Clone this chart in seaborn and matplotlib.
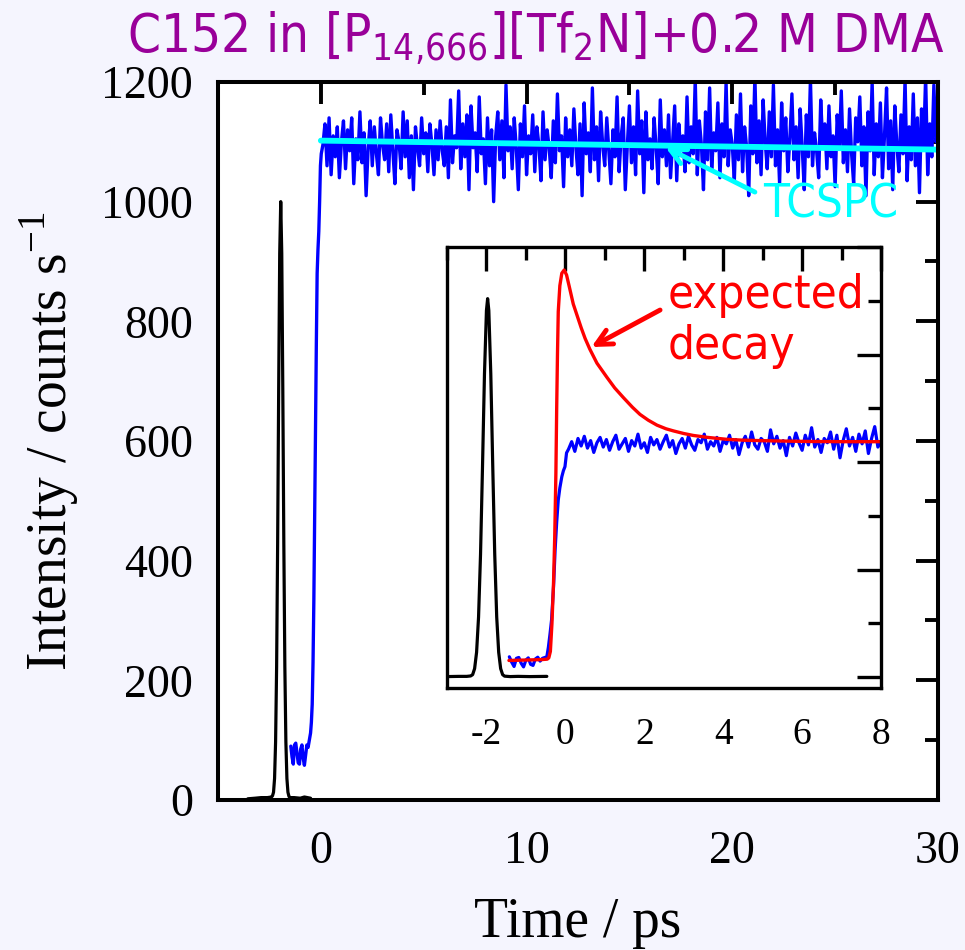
import numpy as np
import pandas as pd
import matplotlib
matplotlib.use("Agg")
import matplotlib.pyplot as plt
from matplotlib import font_manager as fm
from matplotlib.ticker import MultipleLocator, NullFormatter
import seaborn as sns

# ---------------- data ----------------
# instrument response (main panel), counts s^-1
irf_t = [-3.55, -3.2, -2.9, -2.6, -2.4, -2.35, -2.3, -2.25, -2.2, -2.15, -2.1,
         -2.05, -2.0, -1.95, -1.9, -1.85, -1.8, -1.75, -1.7, -1.65, -1.6,
         -1.55, -1.5, -1.3, -1.0, -0.8, -0.5]
irf_i = [2, 3, 4, 4, 5, 7, 13, 36, 97, 223, 430, 688, 913, 1000, 913, 688,
         430, 223, 97, 36, 13, 6, 4, 4, 3, 5, 3]

# fluorescence before / during the rise (main panel)
rise_t = [-1.46, -1.40, -1.34, -1.28, -1.22, -1.16, -1.10, -1.04, -0.98, -0.92,
          -0.86, -0.80, -0.74, -0.68, -0.62, -0.56, -0.50, -0.46, -0.42, -0.38,
          -0.34, -0.30, -0.26, -0.22, -0.18, -0.14, -0.10, -0.06, -0.02, 0.02]
rise_i = [90, 72, 60, 92, 95, 78, 62, 60, 85, 92, 70, 58, 75, 92, 88, 100, 112,
          130, 160, 230, 334, 480, 620, 760, 880, 920, 950, 1000, 1060, 1080]

# fluorescence plateau, 0.1 ps bins from 0.1 to 30.0 ps
plateau_t0, plateau_dt = 0.1, 0.1
plateau_i = [
    1095, 1130, 1060, 1140, 1045, 1110, 1075, 1125, 1040, 1100, 1135, 1055, 1120, 1085, 1140, 1030, 1105, 1070, 1150, 1065,
    1115, 1010, 1090, 1135, 1060, 1125, 1080, 1045, 1140, 1095, 1070, 1130, 1050, 1145, 1085, 1030, 1120, 1100, 1055, 1150,
    1075, 1135, 1040, 1110, 1020, 1125, 1090, 1060, 1140, 1080, 1115, 1050, 1130, 1095, 1045, 1120, 1070, 1135, 1085, 1060,
    1125, 1040, 1170, 1065, 1110, 1090, 1185, 1055, 1130, 1075, 1145, 1020, 1160, 1090, 1115, 1050, 1175, 1080, 1105, 1030,
    1140, 1060, 1120, 1000, 1110, 1150, 1070, 1135, 1040, 1195, 1085, 1125, 1055, 1140, 1090, 1020, 1130, 1075, 1160, 1045,
    1110, 1080, 1145, 1050, 1125, 1095, 1035, 1150, 1070, 1120, 1090, 1040, 1135, 1065, 1180, 1085, 1110, 1025, 1140, 1075,
    1120, 1060, 1155, 1090, 1045, 1130, 1010, 1165, 1080, 1115, 1050, 1190, 1070, 1125, 1035, 1150, 1095, 1060, 1140, 1085,
    1030, 1120, 1075, 1175, 1050, 1110, 1140, 1020, 1095, 1160, 1065, 1125, 1045, 1185, 1080, 1135, 1015, 1150, 1070, 1105,
    1055, 1140, 1090, 1030, 1170, 1075, 1120, 1060, 1145, 1040, 1100, 1160, 1035, 1130, 1085, 1110, 1050, 1175, 1065, 1125,
    1080, 1205, 1045, 1135, 1095, 1020, 1150, 1070, 1190, 1055, 1115, 1085, 1165, 1040, 1130, 1075, 1200, 1060, 1120, 1095,
    1035, 1145, 1070, 1180, 1050, 1125, 1090, 1010, 1160, 1080, 1210, 1065, 1135, 1045, 1170, 1100, 1055, 1150, 1075, 1195,
    1060, 1120, 1030, 1165, 1085, 1140, 1050, 1105, 1180, 1070, 1125, 1040, 1155, 1090, 1020, 1145, 1075, 1205, 1060, 1115,
    1085, 1040, 1170, 1095, 1130, 1055, 1160, 1075, 1110, 1025, 1145, 1090, 1185, 1065, 1120, 1050, 1155, 1080, 1030, 1140,
    1100, 1175, 1060, 1125, 1010, 1150, 1085, 1200, 1045, 1130, 1075, 1165, 1040, 1110, 1190, 1055, 1135, 1020, 1160, 1095,
    1050, 1145, 1080, 1205, 1035, 1125, 1070, 1180, 1060, 1140, 1015, 1155, 1090, 1210, 1045, 1130, 1075, 1195, 1100, 1120,
]

# TCSPC level
tcspc_t = [0.0, 30.0]
tcspc_i = [1102, 1087]

# inset: instrument response
in_irf_t = [-3.0, -2.7, -2.5, -2.4, -2.35, -2.3, -2.25, -2.2, -2.15, -2.1, -2.05,
            -2.0, -1.97, -1.94, -1.89, -1.84, -1.79, -1.74, -1.69, -1.64, -1.59,
            -1.54, -1.4, -1.2, -0.9, -0.47]
in_irf_i = [3, 4, 4, 6, 12, 40, 116, 280, 571, 978, 1410, 1705, 1760, 1705,
            1410, 978, 571, 280, 116, 40, 12, 5, 3, 4, 3, 4]

# inset: measured rise
in_rise_t = [-1.42, -1.36, -1.30, -1.24, -1.18, -1.12, -1.06, -1.00, -0.94, -0.88,
             -0.82, -0.76, -0.70, -0.64, -0.58, -0.52, -0.47, -0.43, -0.39, -0.35,
             -0.30, -0.26, -0.22, -0.18, -0.14, -0.09, -0.05, -0.01, 0.03]
in_rise_i = [95, 70, 50, 88, 92, 65, 48, 80, 90, 60, 55, 85, 93, 75, 88, 92, 95,
             140, 200, 266, 420, 591, 720, 824, 880, 932, 960, 979, 1043]

# inset: measured plateau, 0.08 ps bins from 0.08 to 8.0 ps
in_plat_t0, in_plat_dt = 0.08, 0.08
in_plat_i = [
    1060, 1095, 1050, 1110, 1075, 1120, 1065, 1100, 1045, 1090,
    1115, 1070, 1105, 1055, 1095, 1125, 1060, 1085, 1110, 1050,
    1100, 1075, 1130, 1065, 1090, 1045, 1115, 1080, 1105, 1060,
    1095, 1125, 1070, 1100, 1040, 1085, 1110, 1065, 1120, 1080,
    1055, 1105, 1090, 1130, 1060, 1095, 1075, 1115, 1050, 1100,
    1085, 1125, 1065, 1105, 1035, 1090, 1120, 1070, 1140, 1080,
    1060, 1110, 1095, 1050, 1150, 1085, 1120, 1065, 1100, 1030,
    1115, 1075, 1135, 1090, 1055, 1125, 1080, 1160, 1070, 1105,
    1045, 1110, 1090, 1140, 1060, 1125, 1020, 1100, 1155, 1075,
    1115, 1050, 1130, 1085, 1145, 1040, 1110, 1165, 1070, 1095,
]

# inset: expected decay
exp_t = [-1.43, -1.0, -0.6, -0.46, -0.42, -0.38, -0.34, -0.30, -0.27, -0.24,
         -0.22, -0.20, -0.18, -0.14, -0.09, -0.03, 0.03, 0.1, 0.2, 0.3, 0.4, 0.5,
         0.62, 0.8, 1.05, 1.25, 1.47, 1.7, 1.89, 2.1, 2.32, 2.55, 2.74, 3.0,
         3.24, 3.6, 4.09, 4.5, 4.93, 5.5, 6.2, 7.0, 8.0]
exp_i = [78, 80, 82, 84, 90, 120, 250, 440, 650, 950, 1250, 1500, 1700, 1820,
         1878, 1893, 1870, 1815, 1735, 1680, 1625, 1575, 1525, 1460, 1395, 1345,
         1300, 1255, 1222, 1195, 1172, 1155, 1145, 1133, 1124, 1115, 1106, 1102,
         1100, 1098, 1096, 1095, 1095]


# ---------------- fonts ----------------
def find_narrow_sans():
    """Return the file of an installed narrow / condensed sans face, if any."""
    best = None
    for f in fm.fontManager.ttflist:
        name = f.name.lower()
        fname = f.fname.lower()
        if "mono" in name or "serif" in name or "cjk" in name:
            continue
        stretch = f.stretch
        is_narrow = ("narrow" in name or "condensed" in name
                     or "narrow" in fname or "condensed" in fname
                     or stretch in ("condensed", "semi-condensed"))
        if not is_narrow or "extra" in fname or "ultra" in fname:
            continue
        if f.style != "normal":
            continue
        w = f.weight if isinstance(f.weight, int) else (700 if "bold" in str(f.weight) else 400)
        if w != 400:
            continue
        rank = 1 if ("semi" in fname or "semi" in str(stretch)) else 0
        if best is None or rank < best[0]:
            best = (rank, f.fname)
    return None if best is None else best[1]


narrow_file = find_narrow_sans()

sns.set_theme(style="white")
plt.rcParams["font.family"] = ["Liberation Serif", "DejaVu Serif"]
plt.rcParams["axes.unicode_minus"] = False
plt.rcParams["axes.edgecolor"] = "black"


def sans(size):
    if narrow_file:
        return fm.FontProperties(fname=narrow_file, size=size)
    return fm.FontProperties(family="Roboto", size=size * 0.93)


bg = "#F5F5FE"

fig = plt.figure(figsize=(9.65, 9.5), dpi=100, facecolor=bg)
ax = fig.add_axes([0.2259, 0.1579, 0.7461, 0.7558])
ax.set_facecolor("white")

plateau_t = plateau_t0 + plateau_dt * np.arange(len(plateau_i))
blue_main = pd.DataFrame({"t": list(rise_t) + list(plateau_t),
                          "i": list(rise_i) + list(plateau_i)})
irf_main = pd.DataFrame({"t": irf_t, "i": irf_i})
tcspc = pd.DataFrame({"t": tcspc_t, "i": tcspc_i})

sns.lineplot(data=irf_main, x="t", y="i", ax=ax, color="black", lw=2.3,
             sort=False, estimator=None)
sns.lineplot(data=blue_main, x="t", y="i", ax=ax, color="#0000FF", lw=2.4,
             sort=False, estimator=None)
sns.lineplot(data=tcspc, x="t", y="i", ax=ax, color="#00FFFF", lw=4.2,
             sort=False, estimator=None)

ax.set_xlim(-5, 30)
ax.set_ylim(0, 1200)
ax.xaxis.set_major_locator(MultipleLocator(10))
ax.xaxis.set_minor_locator(MultipleLocator(5))
ax.yaxis.set_major_locator(MultipleLocator(200))
ax.yaxis.set_minor_locator(MultipleLocator(100))
ax.tick_params(which="both", direction="in", top=True, right=True,
               width=2.8, color="black")
ax.tick_params(which="major", length=15.5, labelsize=33, labelcolor="black")
ax.tick_params(which="minor", length=9.5)
ax.tick_params(axis="x", which="major", pad=22)
ax.tick_params(axis="y", which="major", pad=18)
for s in ax.spines.values():
    s.set_linewidth(2.9)
    s.set_color("black")

ax.set_xlabel("Time / ps", fontsize=40, color="black")
ax.set_ylabel(r"Intensity / counts s$^{\mathregular{-1}}$", fontsize=40, color="black")
ax.xaxis.set_label_coords(0.5, -0.135)
ax.yaxis.set_label_coords(-0.19, 0.5)

# TCSPC label and arrow
ax.annotate("", xy=(16.75, 1091), xytext=(21.1, 1016),
            arrowprops=dict(arrowstyle="->", color="#00FFFF", lw=3.5,
                            mutation_scale=28, shrinkA=0, shrinkB=0))
ax.text(21.5, 974, "TCSPC", color="#00FFFF", fontproperties=sans(34),
        ha="left", va="baseline")

# title
fig.text(0.979, 0.945,
         r"C152 in [P$_{\mathregular{14{,}666}}$][Tf$_{\mathregular{2}}$N]+0.2 M DMA",
         color="#990099", fontproperties=sans(38), ha="right", va="baseline")

# ---------------- inset ----------------
ins = fig.add_axes([0.4632, 0.2758, 0.4498, 0.4642])
ins.set_facecolor("white")

in_plat_t = in_plat_t0 + in_plat_dt * np.arange(len(in_plat_i))
blue_in = pd.DataFrame({"t": list(in_rise_t) + list(in_plat_t),
                        "i": list(in_rise_i) + list(in_plat_i)})
irf_in = pd.DataFrame({"t": in_irf_t, "i": in_irf_i})
exp_in = pd.DataFrame({"t": exp_t, "i": exp_i})

sns.lineplot(data=irf_in, x="t", y="i", ax=ins, color="black", lw=2.3,
             sort=False, estimator=None)
sns.lineplot(data=blue_in, x="t", y="i", ax=ins, color="#0000FF", lw=2.3,
             sort=False, estimator=None)
sns.lineplot(data=exp_in, x="t", y="i", ax=ins, color="#FF0000", lw=2.4,
             sort=False, estimator=None)

ins.set_xlim(-3, 8)
ins.set_ylim(-50, 2000)
ins.xaxis.set_major_locator(MultipleLocator(2))
ins.xaxis.set_minor_locator(MultipleLocator(1))
ins.yaxis.set_major_locator(MultipleLocator(500))
ins.yaxis.set_minor_locator(MultipleLocator(250))
ins.yaxis.set_major_formatter(NullFormatter())
ins.tick_params(which="both", direction="in", top=True, right=True,
                width=2.4, color="black")
ins.tick_params(which="major", length=17, labelsize=27, labelcolor="black")
ins.tick_params(which="minor", length=9.5)
ins.tick_params(axis="x", which="major", pad=21)
for s in ins.spines.values():
    s.set_linewidth(2.4)
    s.set_color("black")
ins.set_xlabel("")
ins.set_ylabel("")

ins.annotate("", xy=(0.66, 1535), xytext=(2.40, 1707),
             arrowprops=dict(arrowstyle="->", color="#FF0000", lw=3.5,
                             mutation_scale=28, shrinkA=0, shrinkB=0))
ins.text(2.58, 1717, "expected", color="#FF0000", fontproperties=sans(34),
         ha="left", va="baseline")
ins.text(2.58, 1480, "decay", color="#FF0000", fontproperties=sans(34),
         ha="left", va="baseline")

fig.savefig("out.png", dpi=100, facecolor=bg)
